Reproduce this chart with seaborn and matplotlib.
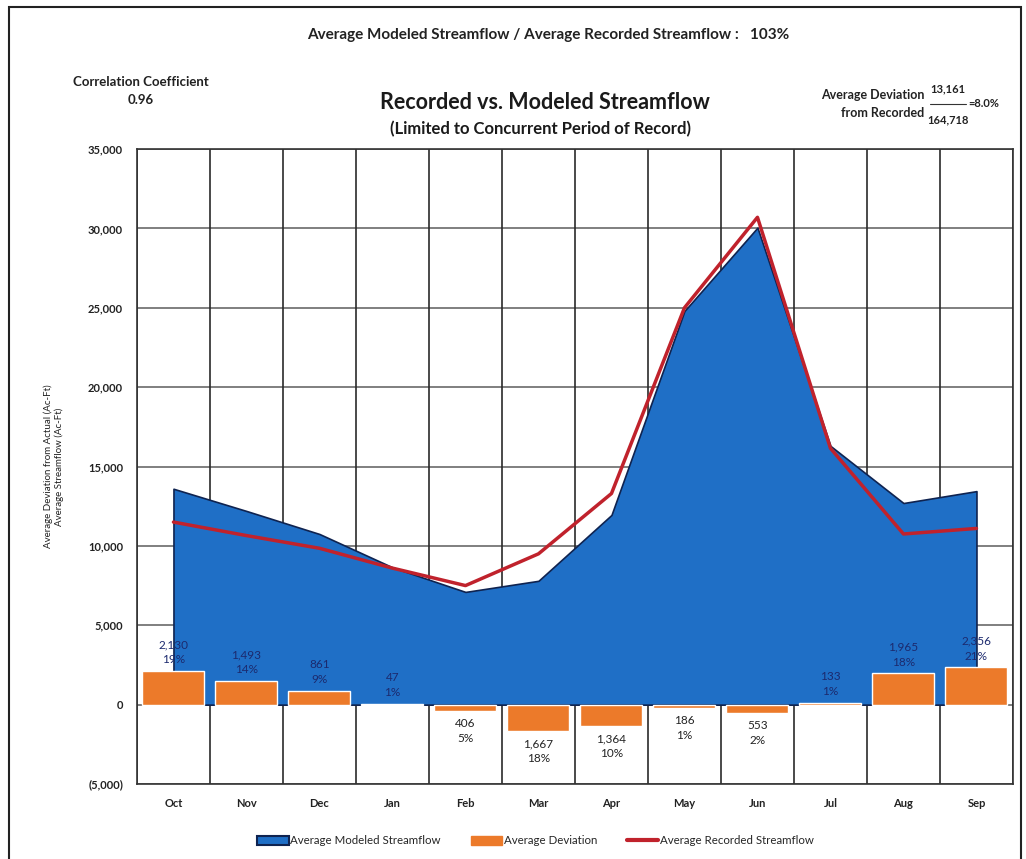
#recorded vs modeled streamflow
import matplotlib
matplotlib.use("Agg")
import matplotlib.pyplot as plt
import matplotlib.patches as mpatches
import matplotlib.lines as mlines
from matplotlib.ticker import FuncFormatter
import seaborn as sns
import pandas as pd

#data
months = ['Oct', 'Nov', 'Dec', 'Jan', 'Feb', 'Mar', 'Apr', 'May', 'Jun', 'Jul', 'Aug', 'Sep']
modeled = [13600, 12200, 10750, 8650, 7100, 7800, 11950, 24800, 30050, 16300, 12700, 13450]
recorded = [11500, 10650, 9850, 8600, 7500, 9500, 13300, 25000, 30700, 16150, 10750, 11100]
deviation = [2130, 1493, 861, 47, -406, -1667, -1364, -186, -553, 133, 1965, 2356]
dev_pct = ['19%', '14%', '9%', '1%', '5%', '18%', '10%', '1%', '2%', '1%', '18%', '21%']

df = pd.DataFrame({'month': months, 'modeled': modeled,
                   'recorded': recorded, 'deviation': deviation})
df['x'] = range(len(months))

#colors
blue = '#1f6fc6'
navy = '#0f2350'
orange = '#ec7a2a'
red = '#c0222c'

sns.set_style("white")
plt.rcParams['font.family'] = ['Lato', 'DejaVu Sans']

fig = plt.figure(figsize=(10.26, 8.59), dpi=100)
ax = fig.add_axes([0.1335, 0.0873, 0.8538, 0.7392])

#modeled area
ax.fill_between(df['x'], 0, df['modeled'], color=blue, edgecolor=navy,
                linewidth=1.2, zorder=2)

#deviation bars
sns.barplot(data=df, x='x', y='deviation', color=orange, width=0.85,
            saturation=1, native_scale=True, ax=ax, zorder=3)

#recorded line
sns.lineplot(data=df, x='x', y='recorded', color=red, linewidth=2.5,
             ax=ax, zorder=4)

#bar labels
for i, (d, p) in enumerate(zip(deviation, dev_pct)):
    txt = f"{abs(d):,}\n{p}"
    if d >= 0:
        ax.annotate(txt, (i, d), xytext=(0, 4), textcoords='offset points',
                    ha='center', va='bottom', fontsize=8.5, color='#1c2a6e',
                    linespacing=1.45, zorder=5)
    else:
        ax.annotate(txt, (i, d), xytext=(0, -5), textcoords='offset points',
                    ha='center', va='top', fontsize=8.5, color='#222222',
                    linespacing=1.45, zorder=5)

#axes
ax.set_xlim(-0.5, 11.5)
ax.set_ylim(-5000, 35000)
ax.set_yticks(range(-5000, 35001, 5000))
ax.yaxis.set_major_formatter(FuncFormatter(
    lambda v, pos: f"({abs(int(v)):,})" if v < 0 else f"{int(v):,}"))
ax.set_xticks(range(len(months)))
ax.set_xticklabels(months)
ax.tick_params(axis='both', labelsize=8, length=0, pad=10)
for lbl in ax.get_xticklabels() + ax.get_yticklabels():
    lbl.set_fontweight('bold')
    lbl.set_color('#222222')
ax.set_xlabel('')
ax.set_ylabel('Average Deviation from Actual (Ac-Ft)\nAverage Streamflow (Ac-Ft)',
              fontsize=7, color='#222222', labelpad=17)

#grid
for yv in range(-5000, 35001, 5000):
    ax.axhline(yv, color='#6a6a6a', linewidth=1.2, zorder=1)
for xv in range(len(months) + 1):
    ax.axvline(xv - 0.5, color='#2a2a2a', linewidth=1.2, zorder=1)
for s in ax.spines.values():
    s.set_color('#333333')
    s.set_linewidth(1.2)

#titles and notes
fig.text(0.534, 0.959, 'Average Modeled Streamflow / Average Recorded Streamflow :   103%',
         ha='center', va='center', fontsize=11, fontweight='bold', color='#222222')
fig.text(0.531, 0.881, 'Recorded vs. Modeled Streamflow', ha='center', va='center',
         fontsize=15.5, fontweight='bold', color='#1a1a1a')
fig.text(0.527, 0.850, '(Limited to Concurrent Period of Record)', ha='center',
         va='center', fontsize=12, fontweight='bold', color='#1a1a1a')
fig.text(0.071, 0.904, 'Correlation Coefficient', ha='left', va='center',
         fontsize=9.5, fontweight='bold', color='#222222')
fig.text(0.137, 0.884, '0.96', ha='center', va='center', fontsize=9.5,
         fontweight='bold', color='#222222')
fig.text(0.901, 0.889, 'Average Deviation', ha='right', va='center', fontsize=9,
         fontweight='bold', color='#222222')
fig.text(0.901, 0.868, 'from Recorded', ha='right', va='center', fontsize=9,
         fontweight='bold', color='#222222')
fig.text(0.924, 0.897, '13,161', ha='center', va='center', fontsize=8,
         fontweight='bold', color='#222222')
fig.text(0.924, 0.861, '164,718', ha='center', va='center', fontsize=8,
         fontweight='bold', color='#222222')
fig.add_artist(mlines.Line2D([0.906, 0.942], [0.879, 0.879], color='#333333',
                             linewidth=0.8))
fig.text(0.944, 0.879, '=8.0%', ha='left', va='center', fontsize=8,
         fontweight='bold', color='#222222')

#page frame
fig.add_artist(mpatches.Rectangle((0.009, -0.01), 0.986, 1.002, fill=False,
                                  edgecolor='#222222', linewidth=1.5,
                                  transform=fig.transFigure))

#legend
handles = [mpatches.Patch(facecolor=blue, edgecolor=navy, linewidth=1.5,
                          label='Average Modeled Streamflow'),
           mpatches.Patch(facecolor=orange, edgecolor=orange,
                          label='Average Deviation'),
           mlines.Line2D([], [], color=red, linewidth=3,
                         label='Average Recorded Streamflow')]
fig.legend(handles=handles, loc='center', bbox_to_anchor=(0.522, 0.021), ncol=3,
           frameon=False, fontsize=8.3, handlelength=2.7, handleheight=0.8,
           columnspacing=2.6, handletextpad=0.15)

fig.savefig('out.png', dpi=100)
